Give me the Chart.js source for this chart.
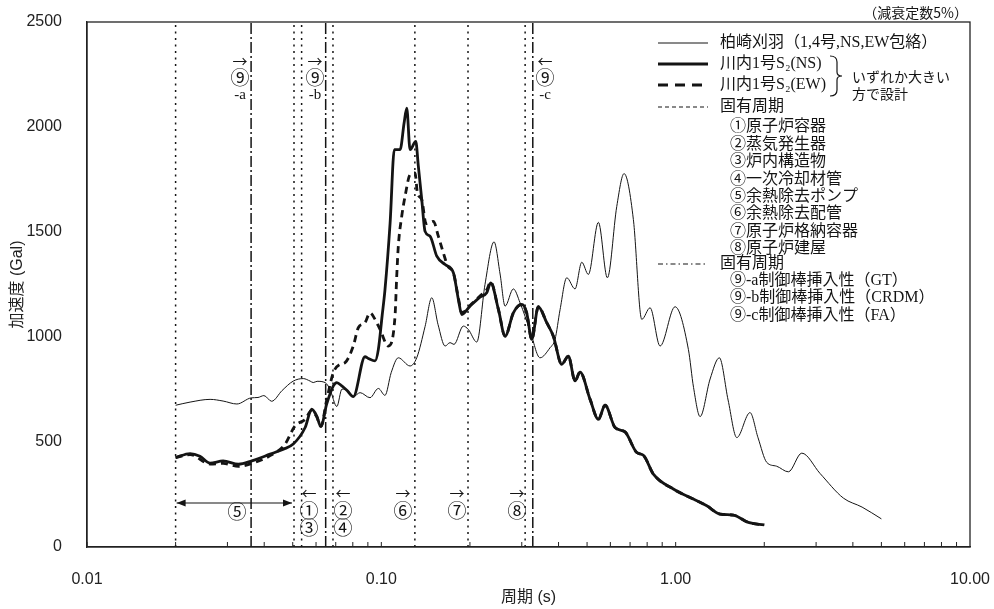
<!DOCTYPE html>
<html>
<head>
<meta charset="utf-8">
<script src="https://cdn.jsdelivr.net/npm/chart.js@4.4.1/dist/chart.umd.min.js"></script>
<style>
  html, body { margin: 0; padding: 0; background: #fff; }
  #wrap { width: 994px; height: 609px; position: relative; }
</style>
</head>
<body>
<div id="wrap"><canvas id="myChart"></canvas></div>
<script>
// 柏崎刈羽 (1,4号, NS/EW 包絡)
const kkPeriod = [0.020, 0.0224, 0.0262, 0.0290, 0.0323, 0.0361, 0.0381, 0.0399, 0.0424, 0.0460,
  0.0502, 0.0543, 0.0573, 0.0587, 0.0605, 0.0644, 0.0669, 0.0706, 0.0735, 0.0772,
  0.0803, 0.0847, 0.0915, 0.0977, 0.1029, 0.1080, 0.1142, 0.1252, 0.1319, 0.1408,
  0.1484, 0.1558, 0.1647, 0.1711, 0.1766, 0.1899, 0.1975, 0.2110, 0.2250, 0.2415,
  0.2532, 0.2633, 0.2809, 0.2960, 0.3201, 0.3461, 0.3743, 0.3892, 0.4048, 0.4266,
  0.4551, 0.4797, 0.5051, 0.5463, 0.5861, 0.6308, 0.6679, 0.7184, 0.7672, 0.8185,
  0.8851, 0.9954, 1.1046, 1.1500, 1.2106, 1.3092, 1.4075, 1.5070, 1.6131, 1.7890,
  1.9050, 2.0390, 2.2000, 2.4150, 2.6820, 3.0950, 3.7130, 4.2990, 5.000];
const kkAccel = [675, 690, 703, 695, 681, 710, 712, 721, 694, 745,
  790, 802, 790, 783, 789, 783, 751, 669, 752, 743,
  716, 735, 711, 755, 722, 830, 901, 862, 901, 1050,
  1187, 1060, 957, 973, 965, 1052, 1036, 976, 1250, 1453,
  1300, 1147, 1229, 1163, 1030, 901, 949, 989, 1130, 1282,
  1229, 1356, 1298, 1546, 1282, 1622, 1778, 1559, 1084, 1139,
  957, 1144, 941, 760, 621, 800, 901, 700, 521, 640,
  520, 403, 385, 358, 447, 350, 233, 190, 134];

// 川内1号 S2 (NS)
const nsPeriod = [0.020, 0.0224, 0.0242, 0.0262, 0.0290, 0.0327, 0.0363, 0.0419, 0.0465, 0.0502,
  0.0551, 0.0580, 0.0603, 0.0623, 0.0652, 0.0687, 0.0706, 0.0734, 0.0765, 0.0803,
  0.0880, 0.0903, 0.0952, 0.0977, 0.1006, 0.1029, 0.1071, 0.1107, 0.1158, 0.1195,
  0.1220, 0.1252, 0.1309, 0.1336, 0.1372, 0.1408, 0.1464, 0.1543, 0.1647, 0.1757,
  0.1827, 0.1876, 0.2001, 0.2164, 0.2281, 0.2353, 0.2500, 0.2633, 0.2809, 0.2999,
  0.3118, 0.3244, 0.3415, 0.3647, 0.3841, 0.4102, 0.4320, 0.4551, 0.4733, 0.5120,
  0.5463, 0.5756, 0.6223, 0.6730, 0.7376, 0.7767, 0.8400, 0.9822, 1.1485, 1.2755,
  1.4157, 1.5708, 1.7663, 2.000];
const nsAccel = [426, 445, 432, 399, 410, 394, 410, 442, 466, 490,
  569, 656, 624, 574, 680, 767, 783, 767, 745, 716,
  906, 898, 886, 941, 1100, 1226, 1543, 1892, 1892, 2019,
  2090, 1892, 1931, 1812, 1654, 1503, 1480, 1385, 1345, 1306,
  1179, 1107, 1147, 1190, 1211, 1258, 1130, 1004, 1115, 1155,
  1115, 989, 1144, 1068, 1004, 870, 909, 791, 833, 703,
  608, 675, 569, 548, 450, 437, 347, 276, 228, 196,
  157, 152, 117, 105];

// 川内1号 S2 (EW)
const ewPeriod = [0.020, 0.0224, 0.0262, 0.0290, 0.0327, 0.0363, 0.0419, 0.0471, 0.0509, 0.0551,
  0.0580, 0.0603, 0.0623, 0.0652, 0.0687, 0.0724, 0.0753, 0.0803, 0.0835, 0.0880,
  0.0915, 0.0952, 0.0990, 0.1056, 0.1113, 0.1128, 0.1142, 0.1173, 0.1204, 0.1252,
  0.1302, 0.1326, 0.1372, 0.1419, 0.1502, 0.1562, 0.1624, 0.1685, 0.1757, 0.1827,
  0.1876, 0.2001, 0.2164, 0.2281, 0.2353, 0.2500, 0.2633, 0.2809, 0.2999, 0.3118,
  0.3244, 0.3415, 0.3647, 0.3841, 0.4102, 0.4320, 0.4551, 0.4733, 0.5120, 0.5463,
  0.5756, 0.6223, 0.6730, 0.7376, 0.7767, 0.8400, 0.9822, 1.1485, 1.2755, 1.4157,
  1.5708, 1.7663, 2.000];
const ewAccel = [426, 440, 395, 398, 384, 398, 435, 490, 577, 608,
  650, 620, 574, 700, 830, 870, 878, 957, 1044, 1068,
  1115, 1084, 1036, 957, 1099, 1290, 1432, 1575, 1670, 1773,
  1781, 1686, 1654, 1540, 1551, 1480, 1401, 1335, 1306, 1185,
  1115, 1150, 1195, 1225, 1262, 1130, 1004, 1115, 1155, 1115,
  989, 1144, 1068, 1004, 870, 909, 791, 833, 703, 608,
  675, 569, 548, 450, 437, 347, 276, 228, 196, 157,
  152, 117, 105];

// 固有周期 (①〜⑧: 点線, ⑨: 一点鎖線)
const naturalPeriods = [0.020, 0.0505, 0.0536, 0.0685, 0.130, 0.197, 0.308];
const rodPeriods = [0.0361, 0.0647, 0.327];
const pumpRange = [0.020, 0.0505];

const xTickValues = [0.01, 0.1, 1, 10];
const xTickLabels = ['0.01', '0.10', '1.00', '10.00'];
const yTickStep = 500;

const legendRows = [
  { text: '柏崎刈羽（1,4号,NS,EW包絡）', y: 43, sample: 'thin' },
  { text: '川内1号S₂(NS)', y: 64, sample: 'thick' },
  { text: '川内1号S₂(EW)', y: 85, sample: 'dash' },
  { text: '固有周期', y: 107, sample: 'dot' },
  { text: '①原子炉容器', y: 127, sub: true },
  { text: '②蒸気発生器', y: 145, sub: true },
  { text: '③炉内構造物', y: 162, sub: true },
  { text: '④一次冷却材管', y: 180, sub: true },
  { text: '⑤余熱除去ポンプ', y: 197, sub: true },
  { text: '⑥余熱除去配管', y: 214, sub: true },
  { text: '⑦原子炉格納容器', y: 232, sub: true },
  { text: '⑧原子炉建屋', y: 249, sub: true },
  { text: '固有周期', y: 264, sample: 'dashdot' },
  { text: '⑨-a制御棒挿入性（GT）', y: 281, sub: true },
  { text: '⑨-b制御棒挿入性（CRDM）', y: 298, sub: true },
  { text: '⑨-c制御棒挿入性（FA）', y: 316, sub: true }
];

const ink = '#141414';
const jpFont = "'Liberation Serif', 'Noto Sans CJK JP'";
const DOT = [2, 4.5];
const DASHDOT = [11, 3, 2, 3];

function toPoints(px, py) {
  return px.map(function (p, i) { return { x: p, y: py[i] }; });
}

function verticalLine(p, dash) {
  return {
    data: [{ x: p, y: 0 }, { x: p, y: 2500 }],
    borderColor: ink,
    borderWidth: 1.5,
    borderDash: dash,
    pointRadius: 0,
    tension: 0
  };
}

const datasets = [
  { label: '川内1号S2(NS)', data: toPoints(nsPeriod, nsAccel), borderColor: ink, borderWidth: 2.8,
    pointRadius: 0, cubicInterpolationMode: 'monotone' },
  { label: '川内1号S2(EW)', data: toPoints(ewPeriod, ewAccel), borderColor: ink, borderWidth: 2.8,
    borderDash: [7, 5], pointRadius: 0, cubicInterpolationMode: 'monotone' },
  { label: '柏崎刈羽', data: toPoints(kkPeriod, kkAccel), borderColor: ink, borderWidth: 1,
    pointRadius: 0, cubicInterpolationMode: 'monotone' }
];
naturalPeriods.forEach(function (p) { datasets.push(verticalLine(p, DOT)); });
rodPeriods.forEach(function (p) { datasets.push(verticalLine(p, DASHDOT)); });

function sampleLine(ctx, kind, y) {
  ctx.save();
  ctx.beginPath();
  ctx.strokeStyle = ink;
  if (kind === 'thin') { ctx.lineWidth = 1; }
  if (kind === 'thick') { ctx.lineWidth = 3; }
  if (kind === 'dash') { ctx.lineWidth = 3; ctx.setLineDash([10, 7]); }
  if (kind === 'dot') { ctx.lineWidth = 1.2; ctx.setLineDash([4, 3]); }
  if (kind === 'dashdot') { ctx.lineWidth = 1.2; ctx.setLineDash([5, 3, 1.5, 3]); }
  ctx.moveTo(658, y);
  ctx.lineTo(708, y);
  ctx.stroke();
  ctx.restore();
}

const decorPlugin = {
  id: 'decor',
  afterDraw: function (chart) {
    const ctx = chart.ctx;
    const a = chart.chartArea;
    const xs = chart.scales.x;
    ctx.save();

    // frame
    ctx.strokeStyle = '#222';
    ctx.lineWidth = 1.3;
    ctx.strokeRect(a.left, a.top, a.right - a.left, a.bottom - a.top);

    // x minor ticks, pointing inward
    ctx.lineWidth = 1;
    [0.01, 0.1, 1].forEach(function (d) {
      for (let m = 1; m <= 9; m++) {
        const px = xs.getPixelForValue(d * m);
        ctx.beginPath();
        ctx.moveTo(px, a.bottom);
        ctx.lineTo(px, a.bottom - 5);
        ctx.stroke();
      }
    });

    ctx.fillStyle = ink;
    ctx.textBaseline = 'middle';

    // damping note
    ctx.textAlign = 'right';
    ctx.font = "14px 'Noto Sans CJK JP'";
    ctx.fillText('（減衰定数5%）', 968, 13);

    // legend
    ctx.textAlign = 'left';
    ctx.font = '16px ' + jpFont;
    legendRows.forEach(function (r) {
      if (r.sample) sampleLine(ctx, r.sample, r.y);
      ctx.fillText(r.text, r.sub ? 730 : 720, r.y);
    });

    // brace
    ctx.lineWidth = 1.2;
    ctx.strokeStyle = ink;
    ctx.beginPath();
    ctx.moveTo(830, 56);
    ctx.quadraticCurveTo(837, 56, 837, 62);
    ctx.lineTo(837, 72);
    ctx.quadraticCurveTo(837, 76, 842, 76);
    ctx.quadraticCurveTo(837, 76, 837, 80);
    ctx.lineTo(837, 90);
    ctx.quadraticCurveTo(837, 96, 830, 96);
    ctx.stroke();
    ctx.font = "14px 'Noto Sans CJK JP'";
    ctx.fillText('いずれか大きい', 852, 77);
    ctx.fillText('方で設計', 852, 94);

    // ⑨ labels at top
    ctx.textAlign = 'center';
    [{ x: 240, arrow: '→', tag: '-a' }, { x: 315, arrow: '→', tag: '-b' }, { x: 545, arrow: '←', tag: '-c' }]
      .forEach(function (n) {
        ctx.font = "15px 'Noto Sans CJK JP'";
        ctx.fillText(n.arrow, n.x, 61);
        ctx.font = "19px 'Noto Sans CJK JP'";
        ctx.fillText('⑨', n.x, 78);
        ctx.font = "15px 'Liberation Serif'";
        ctx.fillText(n.tag, n.x, 95);
      });

    // natural period labels at bottom
    [{ x: 309, arrow: '←', tags: ['①', '③'] }, { x: 343, arrow: '←', tags: ['②', '④'] },
     { x: 403, arrow: '→', tags: ['⑥'] }, { x: 457, arrow: '→', tags: ['⑦'] }, { x: 517, arrow: '→', tags: ['⑧'] }]
      .forEach(function (n) {
        ctx.font = "15px 'Noto Sans CJK JP'";
        ctx.fillText(n.arrow, n.x, 493);
        ctx.font = "19px 'Noto Sans CJK JP'";
        n.tags.forEach(function (t, i) { ctx.fillText(t, n.x, 511 + i * 17); });
      });

    // ⑤ range arrow
    const x0 = xs.getPixelForValue(pumpRange[0]) + 1;
    const x1 = xs.getPixelForValue(pumpRange[1]) - 2;
    const ya = 503;
    ctx.lineWidth = 1.2;
    ctx.beginPath();
    ctx.moveTo(x0, ya); ctx.lineTo(x1, ya); ctx.stroke();
    ctx.beginPath();
    ctx.moveTo(x0, ya); ctx.lineTo(x0 + 9, ya - 3.5); ctx.lineTo(x0 + 9, ya + 3.5); ctx.closePath(); ctx.fill();
    ctx.beginPath();
    ctx.moveTo(x1, ya); ctx.lineTo(x1 - 9, ya - 3.5); ctx.lineTo(x1 - 9, ya + 3.5); ctx.closePath(); ctx.fill();
    ctx.font = "19px 'Noto Sans CJK JP'";
    ctx.fillText('⑤', 237, 512);

    ctx.restore();
  }
};

const ctx = document.getElementById('myChart');
new Chart(ctx, {
  type: 'line',
  data: { datasets: datasets },
  options: {
    responsive: true,
    maintainAspectRatio: false,
    animation: false,
    layout: { padding: { top: 22, right: 24, left: 0, bottom: 0 } },
    plugins: { legend: { display: false }, tooltip: { enabled: false } },
    scales: {
      x: {
        type: 'logarithmic',
        min: 0.01,
        max: 10,
        grid: { display: false },
        border: { display: true, color: '#222', width: 1.3 },
        afterFit: function (scale) {
          scale.height = 62;
          scale.paddingLeft = 0;
          scale.paddingRight = 0;
        },
        ticks: {
          autoSkip: false,
          maxRotation: 0,
          padding: 15,
          color: '#222',
          font: { family: 'Liberation Sans', size: 16 },
          callback: function (value) {
            const i = xTickValues.findIndex(function (t) {
              return Math.abs(Math.log10(t) - Math.log10(value)) < 1e-6;
            });
            return i >= 0 ? xTickLabels[i] : '';
          }
        },
        title: {
          display: true,
          text: '周期 (s)',
          color: '#222',
          font: { family: "'Liberation Sans', 'Noto Sans CJK JP'", size: 16 },
          padding: { top: 0, bottom: 2 }
        }
      },
      y: {
        min: 0,
        max: 2500,
        grid: { display: false },
        border: { display: true, color: '#222', width: 1.3 },
        afterFit: function (scale) {
          scale.width = 87;
          scale.paddingTop = 0;
          scale.paddingBottom = 0;
        },
        ticks: {
          stepSize: yTickStep,
          padding: 17,
          color: '#222',
          font: { family: 'Liberation Sans', size: 16 },
          callback: function (value) { return String(value); }
        },
        title: {
          display: true,
          text: '加速度 (Gal)',
          color: '#222',
          font: { family: "'Liberation Sans', 'Noto Sans CJK JP'", size: 16 },
          padding: { top: 8, bottom: 0 }
        }
      }
    }
  },
  plugins: [decorPlugin]
});
</script>
</body>
</html>
